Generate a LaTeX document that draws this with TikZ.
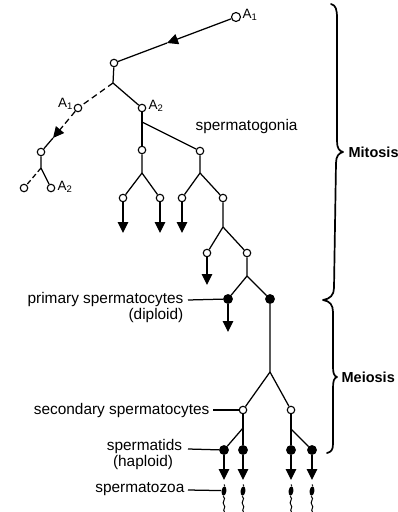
\documentclass[tikz,border=0pt]{standalone}
\usepackage{fontspec}
\setmainfont{Liberation Sans}
\usetikzlibrary{arrows.meta,calc,shapes.geometric}
\begin{document}
\begin{tikzpicture}[x=1pt,y=-1pt,line width=1.25pt,
  oc/.style={circle,draw,fill=white,inner sep=0pt,minimum size=7.5pt,line width=1.1pt},
  fc/.style={circle,draw,fill=black,inner sep=0pt,minimum size=8.5pt},
  sperm/.style={ellipse,fill=black,inner sep=0pt,minimum width=4.8pt,minimum height=9.5pt},
  lbl/.style={font=\fontsize{15.4}{18}\selectfont,inner sep=0pt},
  sub/.style={font=\fontsize{13.5}{15}\selectfont,inner sep=0pt},
  bld/.style={font=\fontsize{14.5}{17}\selectfont\bfseries,inner sep=0pt},
  arr/.style={-{Triangle[length=11pt,width=10.5pt]}},
  dsh/.style={dash pattern=on 6pt off 4pt},
  brace/.style={line width=1.7pt,line cap=round,line join=round}]
\useasboundingbox (0,0) rectangle (398,512);
\newcommand{\subA}[1]{A\raisebox{-0.35ex}{\fontsize{9.5}{10}\selectfont #1}}

% ---- mitosis part ----
\node[oc,minimum size=9pt] (A) at (236,17) {};
\node[sub,anchor=west] (lA) at (242,15) {\subA{1}};
\coordinate (tA) at (167,43);
\node[oc] (n1) at (114,63) {};
\draw[arr] (A) -- (tA);
\draw (tA) -- (n1);
\coordinate (j1) at (113,83);
\draw (n1) -- (j1);

\node[oc] (L) at (78,108) {};
\node[sub,anchor=east] (lL) at (73,104) {\subA{1}};
\draw[dsh] (j1) -- (L);
\coordinate (tL) at (53,138);
\coordinate (tLs) at ($(L)!0.6!(tL)$);
\draw[dsh] (L) -- (tLs);
\draw[arr] (tLs) -- (tL);
\node[oc] (n2) at (41,152) {};
\draw (tL) -- (n2);
\coordinate (j3) at (41,168);
\node[oc] (n5) at (24,188) {};
\node[oc] (n6) at (51,188) {};
\draw (n2) -- (j3) -- (n6);
\draw[dash pattern=on 5pt off 3pt] (j3) -- (n5);
\node[sub,anchor=west] (lC) at (57,187) {\subA{2}};

\node[oc] (B) at (142,108) {};
\node[sub,anchor=west] (lB) at (148,106) {\subA{2}};
\draw (j1) -- (B);
\coordinate (j2) at (142,122);
\node[oc] (n3) at (142,150) {};
\node[oc] (n4) at (200,151) {};
\draw (B) -- (j2) -- (n3);
\draw (j2) -- (n4);
\node[lbl,anchor=base west] (lsg) at (195,130) {spermatogonia};

\coordinate (j4) at (142,173);
\node[oc] (n7) at (123,198) {};
\node[oc] (n8) at (160,198) {};
\draw (n3) -- (j4) -- (n7);
\draw (j4) -- (n8);
\coordinate (t7) at (123,233);
\coordinate (t8) at (160,233);
\draw[arr] (n7) -- (t7);
\draw[arr] (n8) -- (t8);

\coordinate (j5) at (200,173);
\node[oc] (n9) at (182,198) {};
\node[oc] (n10) at (223,198) {};
\draw (n4) -- (j5) -- (n9);
\draw (j5) -- (n10);
\coordinate (t9) at (182,233);
\draw[arr] (n9) -- (t9);

\coordinate (j6) at (223,227);
\node[oc] (n11) at (207,253) {};
\node[oc] (n12) at (247,253) {};
\draw (n10) -- (j6) -- (n11);
\draw (j6) -- (n12);
\coordinate (t11) at (207,285);
\draw[arr] (n11) -- (t11);

\coordinate (j7) at (247,276);
\node[fc] (p1) at (228,299) {};
\node[fc] (p2) at (270,299) {};
\draw (n12) -- (j7) -- (p1);
\draw (j7) -- (p2);
\coordinate (tp1) at (228,332);
\draw[arr] (p1) -- (tp1);
\node[lbl,anchor=base east] (lp1) at (184,303) {primary spermatocytes};
\node[lbl,anchor=base east] (lp2) at (184,319) {(diploid)};
\coordinate (lp1e) at (188,300);
\draw (lp1e) -- (p1);

% ---- meiosis part ----
\coordinate (j8) at (270,372);
\node[oc] (s1) at (243,410) {};
\node[oc] (s2) at (291,410) {};
\draw (p2) -- (j8) -- (s1);
\draw (j8) -- (s2);
\node[lbl,anchor=base east] (ls) at (210,414) {secondary spermatocytes};
\coordinate (lse) at (213,410);
\draw (lse) -- (s1);

\coordinate (j9) at (243,428);
\coordinate (j10) at (291,429);
\node[fc] (d1) at (224,450) {};
\node[fc] (d2) at (243,450) {};
\node[fc] (d3) at (291,450) {};
\node[fc] (d4) at (312,450) {};
\draw (s1) -- (j9) -- (d2);
\draw (j9) -- (d1);
\draw (s2) -- (j10) -- (d3);
\draw (j10) -- (d4);
\node[lbl,anchor=base] (lt1) at (144.5,450) {spermatids};
\node[lbl,anchor=base] (lt2) at (143,466) {(haploid)};
\coordinate (lte) at (188,449);
\draw (lte) -- (d1);

\foreach \k/\x in {1/224,2/243,3/291,4/312}{
  \coordinate (z\k tip) at (\x,480);
  \draw[arr] (d\k) -- (z\k tip);
  \node[sperm,rotate=-8] (z\k) at (\x,491) {};
  \draw[line width=1pt] (\x,484.5) -- (z\k.north);
  \draw[line width=1pt] (z\k.south) .. controls (\x+3,499) and (\x-3,502) .. (\x,505)
     .. controls (\x+2.5,507.5) and (\x-2,509.5) .. (\x+0.5,512);
}
\node[lbl,anchor=base east] (lz) at (185,492) {spermatozoa};
\coordinate (lze) at (188,490);
\draw (lze) -- (z1.west);

% ---- braces ----
\draw[brace] (331,4) .. controls (336,5) and (337,10) .. (337,18)
  -- (337,141) .. controls (337,148) and (339,151) .. (343,152)
  .. controls (339,153) and (336,156) .. (336,163)
  -- (334,288) .. controls (334,295) and (330,299) .. (323,300)
  .. controls (330,301) and (333,305) .. (333,312)
  -- (333,367) .. controls (333,373) and (334,376) .. (337,377)
  .. controls (334,378) and (333,381) .. (333,388)
  -- (333,444) .. controls (333,450) and (331,452) .. (327,453);
\node[bld,anchor=west] (mit) at (348,152) {Mitosis};
\node[bld,anchor=west] (mei) at (341,377) {Meiosis};
\end{tikzpicture}
\end{document}
